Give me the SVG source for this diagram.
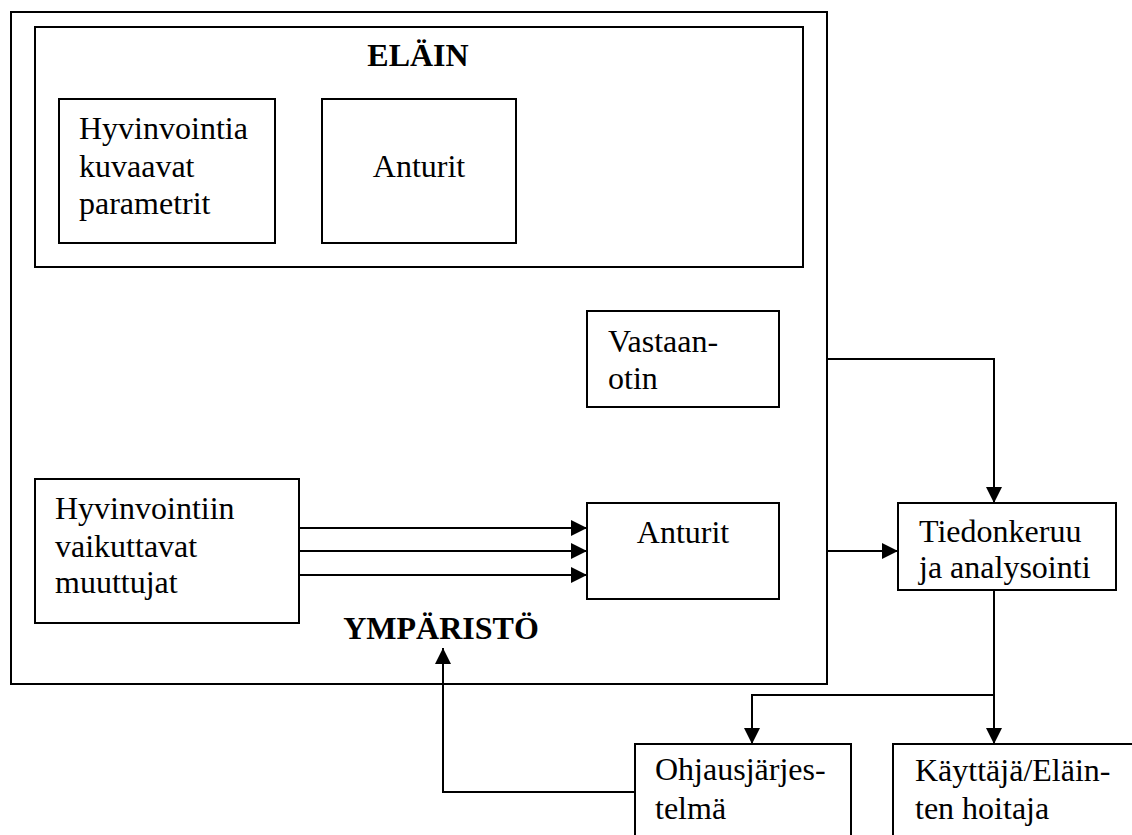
<svg xmlns="http://www.w3.org/2000/svg" width="1132" height="835" viewBox="0 0 1132 835" font-family="'Liberation Serif', 'Times New Roman', Times, 'DejaVu Serif', serif">
<style>
.box{fill:none;stroke:#000;stroke-width:2}
text{font-family:'Liberation Serif','Times New Roman',Times,'DejaVu Serif',serif;font-size:32px;fill:#000}
.b{font-weight:bold}
.c{fill:none;stroke:#000;stroke-width:2}
</style>
<defs>
<marker id="ah" markerUnits="userSpaceOnUse" markerWidth="17" markerHeight="16" refX="16" refY="8" orient="auto">
<path d="M0,0 L16,8 L0,16 z" fill="#000"/>
</marker>
</defs>
<rect width="1132" height="835" fill="#fff"/>
<g id="ymparisto">
<rect class="box" x="11" y="12" width="816" height="672"/>
<text class="b" x="441" y="639" text-anchor="middle">YMPÄRISTÖ</text>
</g>
<g id="elain">
<rect class="box" x="35" y="27" width="768" height="240"/>
<text class="b" x="418" y="66" text-anchor="middle">ELÄIN</text>
</g>
<g id="parametrit">
<rect class="box" x="59" y="99" width="216" height="144"/>
<text x="79" y="139">Hyvinvointia</text>
<text x="79" y="177">kuvaavat</text>
<text x="79" y="214">parametrit</text>
</g>
<g id="anturit1">
<rect class="box" x="322" y="99" width="194" height="144"/>
<text x="419" y="177" text-anchor="middle">Anturit</text>
</g>
<g id="vastaanotin">
<rect class="box" x="587" y="311" width="192" height="96"/>
<text x="608" y="352">Vastaan-</text>
<text x="608" y="389">otin</text>
</g>
<g id="muuttujat">
<rect class="box" x="35" y="479" width="264" height="144"/>
<text x="55" y="519">Hyvinvointiin</text>
<text x="55" y="557">vaikuttavat</text>
<text x="55" y="593">muuttujat</text>
</g>
<g id="anturit2">
<rect class="box" x="587" y="503" width="192" height="96"/>
<text x="683" y="543" text-anchor="middle">Anturit</text>
</g>
<g id="tiedonkeruu">
<rect class="box" x="898" y="503" width="218" height="87"/>
<text x="919" y="542">Tiedonkeruu</text>
<text x="919" y="578">ja analysointi</text>
</g>
<g id="ohjaus">
<rect class="box" x="635" y="744" width="216" height="100"/>
<text x="655" y="780">Ohjausjärjes-</text>
<text x="655" y="819">telmä</text>
</g>
<g id="kayttaja">
<rect class="box" x="893" y="744" width="260" height="100"/>
<text x="915" y="781">Käyttäjä/Eläin-</text>
<text x="915" y="819">ten hoitaja</text>
</g>
<g id="connectors">
<path class="c" d="M299,528 H587" marker-end="url(#ah)"/>
<path class="c" d="M299,551 H587" marker-end="url(#ah)"/>
<path class="c" d="M299,575 H587" marker-end="url(#ah)"/>
<path class="c" d="M827,359 H994 V503" marker-end="url(#ah)"/>
<path class="c" d="M827,551 H898" marker-end="url(#ah)"/>
<path class="c" d="M994,590 V744" marker-end="url(#ah)"/>
<path class="c" d="M994,695 H752 V744" marker-end="url(#ah)"/>
<path class="c" d="M635,792 H443 V648" marker-end="url(#ah)"/>
</g>
</svg>
